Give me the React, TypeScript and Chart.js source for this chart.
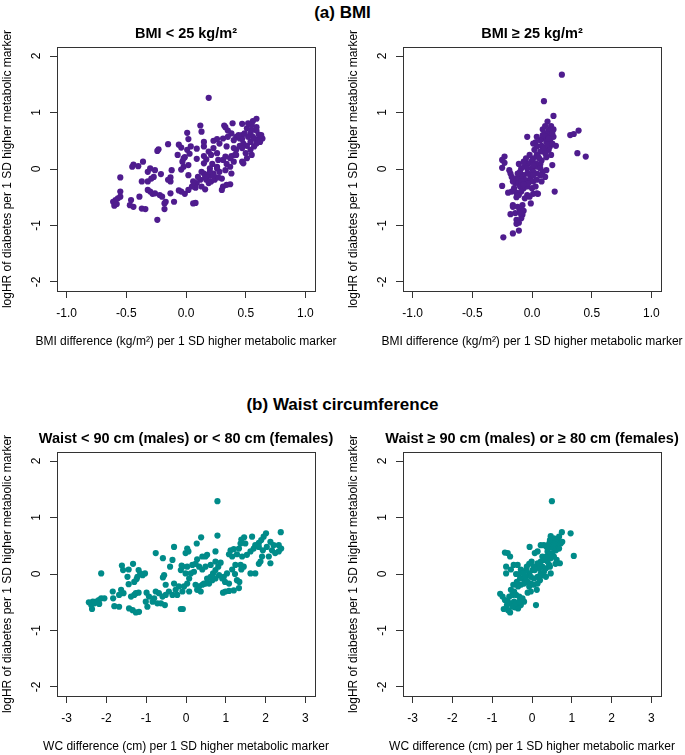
import React, { useEffect, useRef } from 'react';
import { Chart, registerables } from 'chart.js';

Chart.register(...registerables);

const FONT = '"Liberation Sans", Arial, Helvetica, sans-serif';
const PURPLE = '#4f1c8e';
const TEAL = '#008b89';
const AXIS = '#333333';

const bmiTicks = [-1, -0.5, 0, 0.5, 1];
const wcTicks = [-3, -2, -1, 0, 1, 2, 3];
const logHrTicks = [-2, -1, 0, 1, 2];

const sectionTitles = ['(a) BMI', '(b) Waist circumference'];
const panelTitles = [
  'BMI < 25 kg/m²',
  'BMI ≥ 25 kg/m²',
  'Waist < 90 cm (males) or < 80 cm (females)',
  'Waist ≥ 90 cm (males) or ≥ 80 cm (females)',
];
const xTitles = [
  'BMI difference (kg/m²) per 1 SD higher metabolic marker',
  'WC difference (cm) per 1 SD higher metabolic marker',
];
const yTitle = 'logHR of diabetes per 1 SD higher metabolic marker';

// (a) BMI < 25
const bmiLowX = [
  0.19, 0.59, 0.56, 0.47, 0.39, 0.32, 0.33, 0.35, 0.12, 0.13,
  0.01, 0.02, 0.15, 0.23, 0.26, 0.31, 0.28, 0.23, 0.15, 0.09,
  0.04, 0.01, -0.04, -0.06, -0.15, -0.23, -0.24, -0.07, -0.01, 0.03,
  0.09, 0.15, 0.17, 0.15, 0.22, 0.27, 0.31, 0.34, 0.38, 0.41,
  0.42, 0.48, 0.51, 0.54, 0.58, 0.62, 0.64, 0.61, 0.59, 0.55,
  0.51, 0.47, 0.42, 0.38, 0.35, 0.45, 0.50, 0.55, 0.51, 0.47,
  0.48, 0.40, 0.37, 0.33, 0.38, 0.30, 0.28, 0.26, 0.23, 0.20,
  0.17, 0.15, 0.12, 0.09, 0.13, 0.16, 0.19, 0.21, 0.24, 0.27,
  0.31, 0.30, 0.37, 0.34, 0.17, 0.08, 0.05, 0.02, -0.01, -0.04,
  -0.06, -0.10, 0.06, 0.08, 0.02, 0.02, -0.02, -0.04, -0.03, -0.02,
  -0.12, -0.13, -0.13, -0.15, -0.21, -0.26, -0.30, -0.32, -0.36, -0.40,
  -0.44, -0.45, -0.37, -0.32, -0.29, -0.27, -0.32, -0.30, -0.28, -0.26,
  -0.22, -0.20, -0.13, -0.17, -0.18, -0.18, -0.24, -0.34, -0.37, -0.39,
  -0.46, -0.47, -0.44, -0.55, -0.55, -0.55, -0.57, -0.59, -0.61, -0.60,
  -0.58, 0.54, 0.56, 0.61, 0.63, 0.59, 0.52, 0.47, 0.49, 0.44,
  0.40, 0.34, 0.40, 0.45, 0.42, 0.37, 0.33, 0.26, 0.21, 0.19,
  0.26, 0.20, 0.13, 0.10, 0.06, 0.16, 0.20, 0.23, 0.59, 0.57,
  0.54, 0.47, 0.55, 0.52, 0.62,
];
const bmiLowY = [
  1.26, 0.89, 0.85, 0.80, 0.81, 0.77, 0.74, 0.68, 0.77, 0.66,
  0.64, 0.53, 0.48, 0.50, 0.53, 0.54, 0.45, 0.37, 0.40, 0.36,
  0.40, 0.34, 0.38, 0.43, 0.44, 0.35, 0.32, 0.25, 0.21, 0.27,
  0.18, 0.23, 0.17, 0.10, 0.09, 0.16, 0.16, 0.09, 0.23, 0.25,
  0.34, 0.45, 0.41, 0.48, 0.53, 0.57, 0.54, 0.61, 0.68, 0.69,
  0.72, 0.60, 0.57, 0.63, 0.57, 0.54, 0.28, 0.25, 0.19, 0.13,
  0.10, 0.13, 0.04, -0.02, -0.08, -0.17, -0.05, 0.01, -0.08, -0.12,
  -0.11, -0.08, -0.19, -0.25, -0.31, -0.36, -0.25, -0.22, -0.19, -0.15,
  -0.31, -0.37, -0.27, -0.28, -0.19, -0.33, -0.31, -0.37, -0.44, -0.40,
  -0.38, -0.58, -0.61, -0.60, -0.11, 0.07, 0.04, -0.01, 0.13, 0.19,
  -0.02, -0.15, -0.22, -0.19, -0.09, -0.02, 0.01, -0.05, 0.13, 0.05,
  0.08, 0.04, -0.22, -0.22, -0.17, -0.14, -0.37, -0.40, -0.44, -0.43,
  -0.46, -0.49, -0.43, -0.58, -0.61, -0.71, -0.90, -0.71, -0.70, -0.49,
  -0.55, -0.64, -0.67, -0.40, -0.15, -0.49, -0.52, -0.55, -0.58, -0.65,
  -0.62, 0.63, 0.57, 0.51, 0.60, 0.74, 0.57, 0.53, 0.63, 0.60,
  0.51, 0.40, 0.37, 0.41, 0.25, 0.19, 0.22, 0.28, 0.25, 0.31,
  0.04, 0.01, -0.05, -0.14, -0.22, -0.15, -0.05, -0.11, 0.45, 0.40,
  0.34, 0.37, 0.78, 0.81, 0.48,
];

// (a) BMI >= 25
const bmiHighX = [
  0.25, 0.10, 0.18, 0.13, 0.16, 0.15, 0.14, 0.09, 0.11, 0.15,
  0.12, 0.09, 0.07, 0.03, 0.01, -0.04, 0.04, 0.08, 0.12, 0.15,
  0.18, 0.20, 0.14, 0.09, 0.07, 0.04, 0.01, 0.00, -0.03, -0.06,
  -0.09, -0.11, -0.04, 0.00, 0.04, 0.07, 0.08, 0.12, 0.16, 0.17,
  0.12, 0.09, 0.11, 0.07, 0.04, 0.01, -0.01, -0.04, -0.07, -0.10,
  -0.13, -0.14, -0.16, -0.17, -0.18, -0.19, -0.23, -0.25, -0.23, -0.25,
  -0.11, -0.10, -0.07, -0.04, 0.00, 0.03, 0.04, 0.01, 0.05, -0.02,
  -0.04, -0.06, -0.01, 0.19, -0.13, -0.17, -0.20, -0.16, -0.16, -0.18,
  -0.14, -0.10, -0.07, -0.08, -0.09, -0.11, -0.13, -0.11, -0.16, -0.24,
  -0.25, 0.32, 0.35, 0.39, 0.38, 0.45, 0.15, 0.11, 0.05, 0.03,
  0.07, -0.02, -0.06, -0.09, -0.03, 0.01, 0.04, 0.08, 0.01, 0.06,
  0.10, 0.13, 0.17, 0.18, 0.11, 0.17, 0.14, 0.09, 0.04, 0.02,
  -0.02, -0.05, -0.07, -0.10, -0.12, -0.15, -0.13, -0.09, -0.11, -0.07,
  -0.03, 0.01, -0.13, -0.10, -0.12, -0.08,
];
const bmiHighY = [
  1.67, 1.20, 0.94, 0.84, 0.76, 0.70, 0.68, 0.70, 0.63, 0.61,
  0.57, 0.54, 0.51, 0.47, 0.45, 0.57, 0.40, 0.41, 0.48, 0.51,
  0.57, 0.41, 0.34, 0.34, 0.31, 0.25, 0.19, 0.15, 0.10, 0.05,
  0.01, 0.09, 0.01, 0.01, 0.04, 0.09, 0.15, 0.21, 0.25, 0.07,
  -0.02, -0.05, -0.14, -0.11, -0.08, -0.05, -0.14, -0.08, -0.11, -0.14,
  -0.17, -0.25, -0.22, -0.14, -0.08, -0.02, 0.22, 0.16, 0.11, 0.02,
  -0.25, -0.31, -0.34, -0.31, -0.34, -0.31, -0.43, -0.44, -0.44, -0.49,
  -0.46, -0.52, -0.61, -0.40, -0.50, -0.40, -0.42, -0.64, -0.67, -0.80,
  -0.78, -0.73, -0.74, -0.81, -0.87, -0.95, -0.97, -1.09, -1.14, -1.21,
  -0.30, 0.60, 0.62, 0.68, 0.28, 0.22, 0.40, 0.28, 0.22, 0.10,
  0.01, -0.19, -0.19, -0.22, -0.25, -0.22, -0.19, -0.22, 0.07, 0.19,
  0.38, 0.44, 0.45, 0.70, 0.76, 0.63, 0.54, 0.60, 0.57, 0.34,
  0.25, 0.19, 0.13, -0.05, -0.08, -0.34, -0.42, -0.40, -0.46, -0.27,
  -0.08, -0.11, -0.90, -0.78, -0.67, -0.64,
];

// (b) Waist < 90 / < 80
const wcLowX = [
  0.79, 0.79, 2.38, 2.01, 1.95, 1.89, 1.83, 1.74, 1.66, 1.46,
  1.39, 1.37, 1.49, 1.33, 1.20, 1.12, 1.08, 1.16, 1.28, 1.41,
  1.53, 1.62, 1.70, 1.83, 1.93, 2.03, 2.12, 2.20, 2.33, 2.39,
  2.33, 2.24, 2.16, 2.08, 1.91, 1.87, 1.83, 2.12, 1.74, 1.62,
  1.45, 1.37, 1.24, 1.16, 1.03, 0.95, 0.83, 0.91, 0.98, 1.08,
  0.99, 0.93, 1.08, 1.20, 1.33, 1.34, 1.28, 1.39, 1.23, 0.74,
  0.66, 0.58, 0.49, 0.41, 0.33, 0.24, 0.28, 0.37, 0.45, 0.53,
  0.62, 0.68, 0.74, 0.81, 0.87, 0.74, 0.62, 0.49, 0.41, 0.33,
  0.24, 0.16, 0.03, -0.09, -0.13, -0.01, 0.12, 0.20, 0.08, 0.03,
  -0.05, -0.18, -0.26, -0.30, -0.43, -0.51, -0.59, -0.68, -0.76, -0.80,
  -0.93, -0.99, -1.01, -0.97, -0.84, -0.72, -0.63, -0.53, -0.34, -0.22,
  -0.09, 0.08, -0.08, -0.13, 0.53, 0.74, 0.49, 0.41, 0.28, 0.06,
  -0.01, 0.03, 0.27, 0.38, -0.30, -0.58, -0.76, -0.55, -0.58, -0.51,
  -0.34, -0.40, -0.11, -1.03, -1.09, -1.15, -1.19, -1.22, -1.24, -1.30,
  -1.33, -1.44, -1.61, -1.58, -1.47, -1.44, -1.63, -1.57, -1.68, -1.26,
  -1.19, -1.30, -1.38, -1.43, -1.34, -1.26, -1.18, -1.83, -1.84, -1.80,
  -1.68, -2.13, -2.13, -2.19, -2.26, -2.34, -2.44, -2.36, -2.38, -2.30,
  -2.18, -2.05,
];
const wcLowY = [
  1.29, 0.68, 0.74, 0.72, 0.66, 0.60, 0.55, 0.51, 0.66, 0.65,
  0.61, 0.54, 0.54, 0.45, 0.44, 0.42, 0.35, 0.31, 0.35, 0.31,
  0.34, 0.40, 0.45, 0.48, 0.42, 0.48, 0.57, 0.51, 0.51, 0.45,
  0.40, 0.37, 0.42, 0.31, 0.31, 0.22, 0.18, 0.19, 0.01, 0.01,
  0.13, 0.16, 0.16, 0.08, 0.01, -0.05, -0.02, -0.08, -0.14, -0.17,
  -0.31, -0.33, -0.30, -0.29, -0.25, -0.14, -0.11, 0.08, 0.00, -0.08,
  -0.11, -0.17, -0.17, -0.19, -0.22, -0.19, -0.28, -0.31, -0.17, -0.08,
  -0.05, 0.01, 0.07, 0.13, 0.20, 0.22, 0.16, 0.13, 0.08, 0.13,
  0.18, 0.16, 0.13, 0.13, 0.07, 0.01, 0.01, 0.04, -0.08, -0.17,
  -0.22, -0.22, -0.28, -0.17, -0.31, -0.37, -0.40, -0.34, -0.31, -0.43,
  -0.40, -0.33, -0.49, -0.58, -0.49, -0.52, -0.52, -0.55, -0.37, -0.37,
  -0.31, -0.31, -0.62, -0.62, 0.34, 0.40, 0.31, 0.31, 0.26, 0.40,
  0.37, 0.45, 0.54, 0.65, 0.48, 0.28, 0.37, -0.02, -0.06, -0.19,
  0.25, 0.13, 0.15, 0.01, -0.02, 0.01, 0.07, -0.05, -0.09, -0.14,
  0.18, 0.08, 0.15, 0.07, -0.05, -0.18, -0.28, -0.34, -0.37, -0.34,
  -0.33, -0.37, -0.40, -0.61, -0.64, -0.68, -0.67, -0.43, -0.31, -0.57,
  -0.58, 0.01, -0.43, -0.46, -0.49, -0.49, -0.50, -0.62, -0.55, -0.52,
  -0.53, -0.43,
];

// (b) Waist >= 90 / >= 80
const wcHighX = [
  0.50, 0.75, 0.97, 1.05, 0.47, 0.55, 0.64, 0.72, 0.60, 0.49,
  0.43, 0.37, 0.30, 0.22, 0.14, 0.07, -0.06, 0.39, 0.51, 0.60,
  0.68, 0.55, 0.47, 0.39, 0.30, 0.22, 0.14, 0.05, 0.01, -0.07,
  -0.15, -0.28, -0.36, -0.46, -0.40, -0.61, -0.68, -0.55, -0.65, -0.65,
  -0.53, -0.32, -0.21, -0.15, -0.03, 0.05, 0.14, 0.22, 0.30, 0.35,
  0.47, 0.59, 0.45, 0.05, -0.03, -0.11, -0.20, -0.28, -0.35, -0.45,
  -0.49, -0.40, -0.32, -0.24, -0.20, -0.28, -0.35, -0.43, -0.55, -0.60,
  -0.71, -0.80, -0.74, -0.68, -0.61, -0.53, -0.45, -0.03, -0.11, -0.07,
  0.10, 0.12, 0.14, 0.20, 0.26, 0.35, 0.43, 0.26, 0.18, 0.07,
  -0.01, -0.07, -0.13, -0.21, -0.30, -0.38, -0.47, -0.53, -0.57, -0.63,
  -0.49, -0.40, -0.32, 0.55, 0.68, 0.76, 0.45, 0.62, 0.70, 0.43,
  0.35, 0.26, 0.20,
];
const wcHighY = [
  1.29, 0.74, 0.72, 0.32, 0.67, 0.63, 0.59, 0.54, 0.51, 0.47,
  0.54, 0.48, 0.51, 0.51, 0.40, 0.37, 0.48, 0.40, 0.37, 0.42,
  0.45, 0.31, 0.28, 0.22, 0.25, 0.22, 0.19, 0.13, 0.07, 0.01,
  0.07, 0.08, 0.16, 0.16, 0.00, 0.37, 0.38, 0.31, 0.13, 0.01,
  0.08, 0.00, -0.08, -0.05, -0.05, -0.08, -0.05, 0.01, 0.04, 0.10,
  0.01, 0.18, 0.13, -0.19, -0.17, -0.14, -0.17, -0.19, -0.22, -0.31,
  -0.37, -0.37, -0.40, -0.43, -0.49, -0.55, -0.61, -0.59, -0.68, -0.64,
  -0.62, -0.35, -0.40, -0.46, -0.49, -0.52, -0.49, -0.31, -0.33, -0.22,
  -0.55, -0.28, -0.17, -0.11, -0.02, -0.05, 0.16, 0.13, 0.10, 0.07,
  0.22, 0.18, 0.13, 0.01, -0.08, -0.14, -0.19, -0.28, -0.40, -0.55,
  -0.58, -0.52, -0.49, 0.54, 0.66, 0.57, 0.60, 0.25, 0.19, 0.34,
  0.31, 0.31, 0.18,
];

type Geo = {
  left: number; top: number; width: number; height: number;
  boxTop: number; yAxisW: number; rightPad: number; xAxisH: number;
};

// Draws the R-style box, rotated y tick labels and the (unsquashed) titles.
const rPlotPlugin = {
  id: 'rPlot',
  afterDraw(chart: any, _args: any, opts: any) {
    const { ctx, chartArea: a, scales } = chart;
    ctx.save();
    ctx.strokeStyle = AXIS;
    ctx.lineWidth = 1;
    const l = Math.round(a.left) + 0.5;
    const t = Math.round(a.top) + 0.5;
    const r = Math.round(a.right) + 0.5;
    const b = Math.round(a.bottom) + 0.5;
    ctx.strokeRect(l, t, r - l, b - t);

    const ys = scales.y;
    ctx.fillStyle = '#000';
    ctx.font = `12px ${FONT}`;
    ctx.textAlign = 'center';
    ctx.textBaseline = 'middle';
    for (const tk of ys.ticks) {
      const py = ys.getPixelForValue(tk.value);
      ctx.save();
      ctx.translate(a.left - 20, py);
      ctx.rotate(-Math.PI / 2);
      ctx.fillText(String(tk.value), 0, 0);
      ctx.restore();
    }
    const cx = (a.left + a.right) / 2;
    const cy = (a.top + a.bottom) / 2;
    // x axis title
    ctx.fillText(opts.xTitle, cx, a.bottom + 51);
    // y axis title
    ctx.save();
    ctx.translate(a.left - 49, cy);
    ctx.rotate(-Math.PI / 2);
    ctx.fillText(opts.yTitle, 0, 0);
    ctx.restore();
    // panel title
    ctx.font = `bold 14.5px ${FONT}`;
    ctx.fillText(opts.title, cx, a.top - 13.5);
    ctx.restore();
  },
};

function Panel(props: {
  xs: number[]; ys: number[]; color: string; xTicks: number[]; xLim: number;
  decimals: number; title: string; xTitle: string; geo: Geo;
}) {
  const ref = useRef<HTMLCanvasElement | null>(null);
  const { xs, ys, color, xTicks, xLim, decimals, title, xTitle, geo } = props;
  useEffect(() => {
    if (!ref.current) return;
    const font = { family: FONT, size: 12 };
    const chart = new Chart(ref.current, {
      type: 'scatter',
      data: {
        datasets: [
          {
            data: xs.map((x, i) => ({ x, y: ys[i] })),
            backgroundColor: color,
            borderWidth: 0,
            pointRadius: 3.1,
            pointHoverRadius: 3.1,
          },
        ],
      },
      options: {
        animation: false,
        responsive: false,
        maintainAspectRatio: false,
        events: [],
        layout: { padding: { left: 0, top: geo.boxTop, right: geo.rightPad, bottom: 0 } },
        plugins: {
          legend: { display: false },
          tooltip: { enabled: false },
          title: { display: false },
          rPlot: { title, xTitle, yTitle },
        },
        scales: {
          x: {
            type: 'linear',
            min: -xLim,
            max: xLim,
            afterBuildTicks: (s: any) => {
              s.ticks = xTicks.map((v) => ({ value: v }));
            },
            afterFit: (s: any) => {
              s.height = geo.xAxisH;
            },
            ticks: {
              font,
              color: '#000',
              padding: 8,
              maxRotation: 0,
              autoSkip: false,
              callback: (v: any) => Number(v).toFixed(decimals),
            },
            grid: { drawOnChartArea: false, drawTicks: true, tickLength: 7, color: AXIS },
            border: { display: true, color: AXIS },
            title: { display: false },
          },
          y: {
            type: 'linear',
            min: -2.16,
            max: 2.16,
            afterBuildTicks: (s: any) => {
              s.ticks = logHrTicks.map((v) => ({ value: v }));
            },
            afterFit: (s: any) => {
              s.width = geo.yAxisW;
            },
            ticks: { display: false },
            grid: { drawOnChartArea: false, drawTicks: true, tickLength: 7, color: AXIS },
            border: { display: true, color: AXIS },
            title: { display: false },
          },
        },
      } as any,
      plugins: [rPlotPlugin],
    });
    return () => chart.destroy();
  }, []);
  return (
    <canvas
      ref={ref}
      width={geo.width}
      height={geo.height}
      style={{ position: 'absolute', left: geo.left, top: geo.top, width: geo.width, height: geo.height }}
    />
  );
}

const geoTL: Geo = { left: 0, top: 18, width: 345, height: 342, boxTop: 29, yAxisW: 57, rightPad: 30, xAxisH: 69 };
const geoTR: Geo = { left: 345, top: 18, width: 340, height: 342, boxTop: 29, yAxisW: 58, rightPad: 24, xAxisH: 69 };
const geoBL: Geo = { left: 0, top: 423, width: 345, height: 332, boxTop: 29, yAxisW: 57, rightPad: 30, xAxisH: 59 };
const geoBR: Geo = { left: 345, top: 423, width: 340, height: 332, boxTop: 29, yAxisW: 58, rightPad: 24, xAxisH: 59 };

const headingStyle = (top: number): React.CSSProperties => ({
  position: 'absolute',
  left: 0,
  top,
  width: 685,
  height: 20,
  lineHeight: '20px',
  textAlign: 'center',
  fontFamily: FONT,
  fontWeight: 'bold',
  fontSize: 17,
  color: '#000',
  margin: 0,
});

export default function App() {
  return (
    <div style={{ position: 'absolute', left: 0, top: 0, width: 685, height: 755, background: '#fff', overflow: 'hidden' }}>
      <div style={headingStyle(3)}>{sectionTitles[0]}</div>
      <div style={headingStyle(395)}>{sectionTitles[1]}</div>
      <Panel xs={bmiLowX} ys={bmiLowY} color={PURPLE} xTicks={bmiTicks} xLim={1.08} decimals={1} title={panelTitles[0]} xTitle={xTitles[0]} geo={geoTL} />
      <Panel xs={bmiHighX} ys={bmiHighY} color={PURPLE} xTicks={bmiTicks} xLim={1.08} decimals={1} title={panelTitles[1]} xTitle={xTitles[0]} geo={geoTR} />
      <Panel xs={wcLowX} ys={wcLowY} color={TEAL} xTicks={wcTicks} xLim={3.24} decimals={0} title={panelTitles[2]} xTitle={xTitles[1]} geo={geoBL} />
      <Panel xs={wcHighX} ys={wcHighY} color={TEAL} xTicks={wcTicks} xLim={3.24} decimals={0} title={panelTitles[3]} xTitle={xTitles[1]} geo={geoBR} />
    </div>
  );
}
